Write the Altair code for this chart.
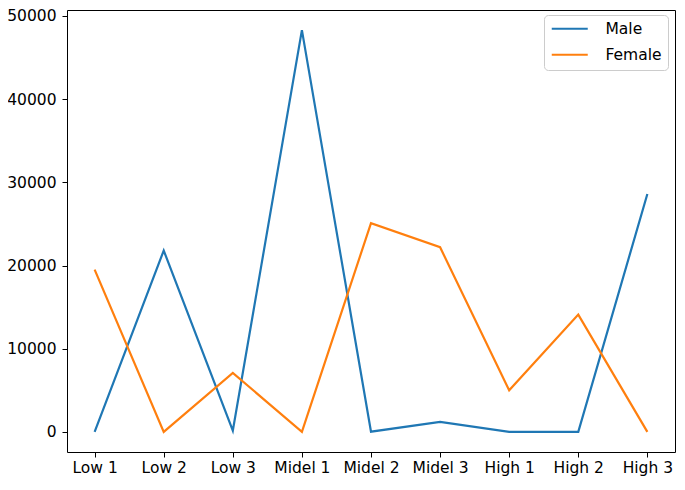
import altair as alt
import pandas as pd

categories = ["Low 1", "Low 2", "Low 3", "Midel 1", "Midel 2", "Midel 3", "High 1", "High 2", "High 3"]
male = [0, 21800, 150, 48300, 30, 1200, 0, 0, 28600]
female = [19500, 0, 7100, 0, 25100, 22200, 5000, 14100, 0]
series = ["Male", "Female"]
colors = ["#1f77b4", "#ff7f0e"]
y_ticks = [0, 10000, 20000, 30000, 40000, 50000]

rows = []
for s, vals in zip(series, [male, female]):
    for c, v in zip(categories, vals):
        rows.append({"category": c, "value": v, "series": s})
df = pd.DataFrame(rows)

FONT = "DejaVu Sans"

chart = alt.Chart(df).mark_line(strokeWidth=2.2).encode(
    x=alt.X("category:N", sort=categories,
            scale=alt.Scale(type="point", padding=0.4),
            axis=alt.Axis(title=None, labelAngle=0, labelOverlap=False,
                          labelPadding=3)),
    y=alt.Y("value:Q",
            scale=alt.Scale(domain=[-2415, 50715], nice=False, zero=False),
            axis=alt.Axis(title=None, values=y_ticks, format="d", grid=False,
                          labelPadding=6)),
    color=alt.Color("series:N", sort=series,
                    scale=alt.Scale(domain=series, range=colors),
                    legend=alt.Legend(title=None, orient="none", legendX=477, legendY=5,
                                      symbolType="M-1.2,0H6", symbolSize=100,
                                      symbolStrokeWidth=2.2, labelOffset=40,
                                      padding=6, rowPadding=9, cornerRadius=4,
                                      strokeColor="#cccccc", fillColor="white",
                                      labelFont=FONT, labelFontSize=15.5,
                                      labelColor="black")),
).properties(
    width=608, height=442,
    autosize=alt.AutoSizeParams(type="none"),
    padding={"left": 59, "top": 2, "right": 1, "bottom": 26},
).configure_view(
    stroke="black", strokeWidth=1
).configure_axis(
    domain=False, tickColor="black", tickSize=5, tickWidth=1,
    labelFont=FONT, labelFontSize=15.5, labelColor="black"
)

chart.save("out.html", embed_options={"renderer": "svg", "actions": False})
